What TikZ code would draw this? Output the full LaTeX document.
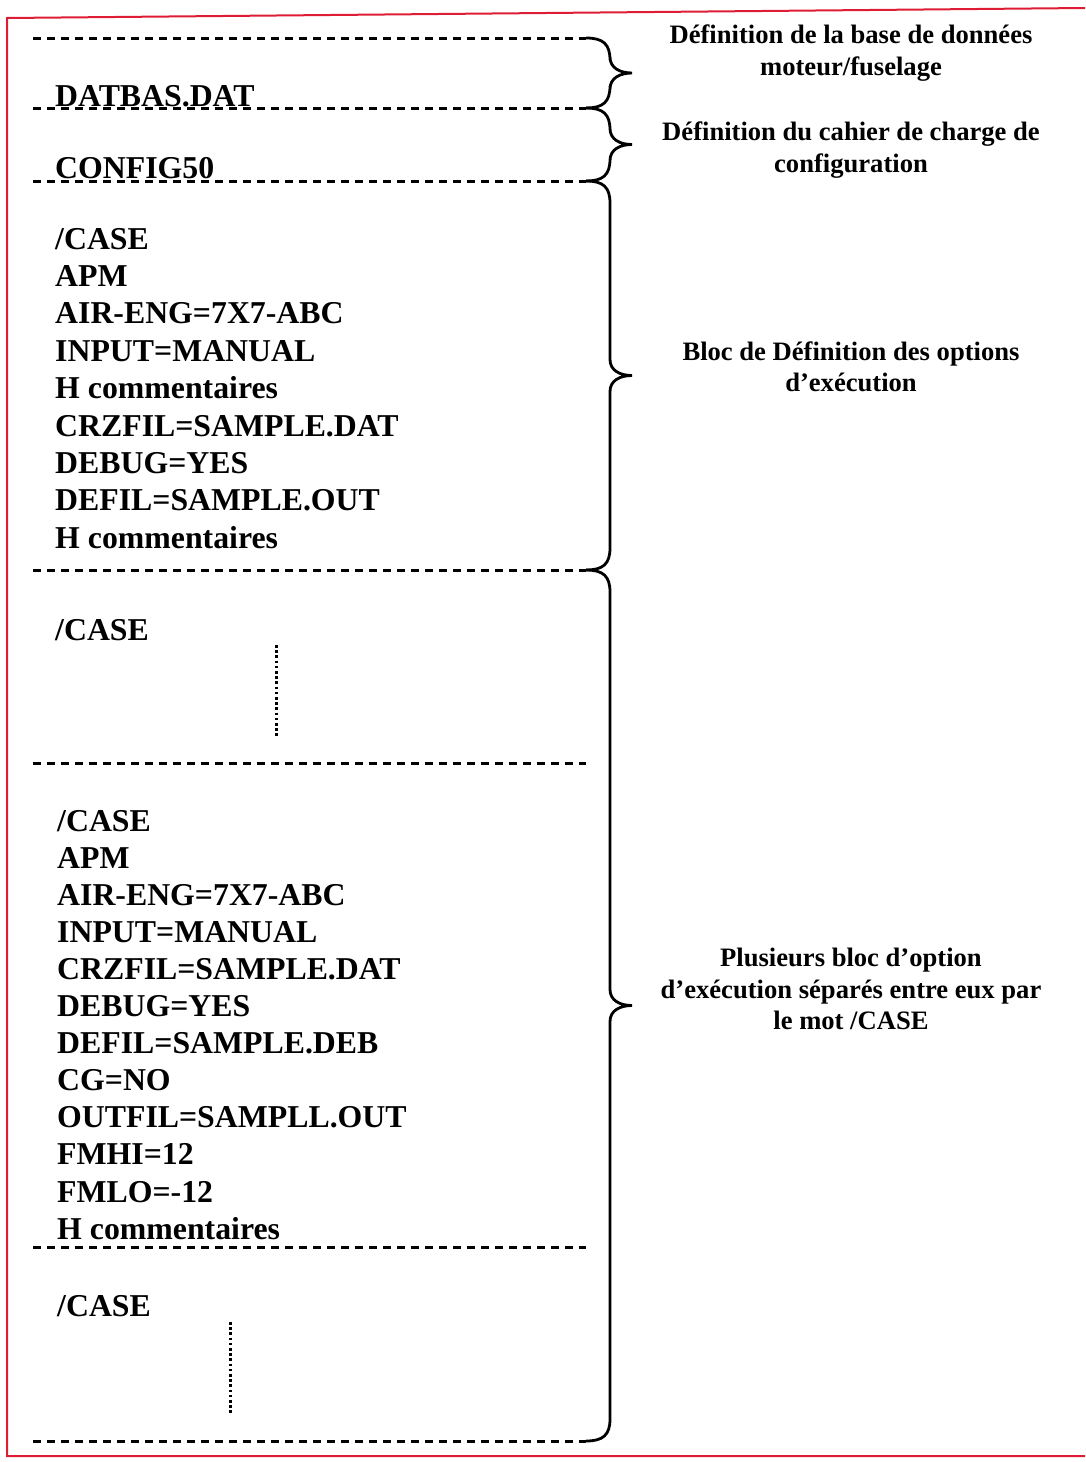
\documentclass[tikz,border=0pt]{standalone}
\usepackage{fontspec}
\setmainfont{Liberation Serif}
\definecolor{borderred}{RGB}{222,28,52}
\begin{document}
\begin{tikzpicture}[x=1pt,y=-1pt,
  sep/.style={line width=3pt, dash pattern=on 8pt off 6pt},
  brace/.style={line width=2.8pt},
  dotv/.style={line width=3pt, dash pattern=on 2.6pt off 2.6pt},
  code/.style={anchor=base west, inner sep=0pt, font=\bfseries\fontsize{31.8}{37.4}\selectfont},
  lab/.style={align=center, inner sep=0pt, font=\bfseries\fontsize{26.6}{31.5}\selectfont}]
\useasboundingbox (0,0) rectangle (1085,1462);
\draw[borderred, line width=2pt] (1085,8) -- (7,18) -- (7,1456) -- (1085,1456);
% separators
\foreach \y/\n in {38/s1,108/s2,181/s3,570/s4,763/s5,1247/s6,1441/s7}{
  \coordinate (\n a) at (33,\y);
  \coordinate (\n b) at (586,\y);
  \draw[sep] (\n a) -- (\n b);
}
% braces
\newcommand{\mybrace}[3]{% top, bottom, tip name
  \draw[brace] (586,#1) .. controls (603,#1) and (610,#1+6) .. (610,#1+22)
    -- (610,{(#1+#2)/2-16}) .. controls (610,{(#1+#2)/2-5}) and (620,{(#1+#2)/2}) .. (632,{(#1+#2)/2})
    .. controls (620,{(#1+#2)/2}) and (610,{(#1+#2)/2+5}) .. (610,{(#1+#2)/2+16})
    -- (610,#2-22) .. controls (610,#2-6) and (603,#2) .. (586,#2);
  \coordinate (#3) at (632,{(#1+#2)/2});
}
\mybrace{38}{108}{t1}
\mybrace{108}{181}{t2}
\mybrace{181}{570}{t3}
\mybrace{570}{1441}{t4}
% labels
\node[lab] (l1) at (851,53) {Définition de la base de données\\moteur/fuselage};
\node[lab] (l2) at (851,150) {Définition du cahier de charge de\\configuration};
\node[lab] (l3) at (851,367) {Bloc de Définition des options\\d’exécution};
\node[lab] (l4) at (851,989) {Plusieurs bloc d’option\\d’exécution séparés entre eux par\\le mot /CASE};
% code text
\node[code] (c1) at (55,106) {DATBAS.DAT};
\node[code] (c2) at (55,178) {CONFIG50};
\foreach \t [count=\i from 0] in {/CASE,APM,AIR-ENG=7X7-ABC,INPUT=MANUAL,H commentaires,CRZFIL=SAMPLE.DAT,DEBUG=YES,DEFIL=SAMPLE.OUT,H commentaires}{
  \node[code] (b\i) at (55,249+37.4*\i) {\t};
}
\node[code] (c3) at (55,640) {/CASE};
\draw[dotv] (276,645) coordinate (d1a) -- (276,738) coordinate (d1b);
\foreach \t [count=\i from 0] in {/CASE,APM,AIR-ENG=7X7-ABC,INPUT=MANUAL,CRZFIL=SAMPLE.DAT,DEBUG=YES,DEFIL=SAMPLE.DEB,CG=NO,OUTFIL=SAMPLL.OUT,FMHI=12,FMLO=-12,H commentaires}{
  \node[code] (e\i) at (57,831+37.1*\i) {\t};
}
\node[code] (c4) at (57,1316) {/CASE};
\draw[dotv] (230,1322) coordinate (d2a) -- (230,1415) coordinate (d2b);
\end{tikzpicture}
\end{document}
